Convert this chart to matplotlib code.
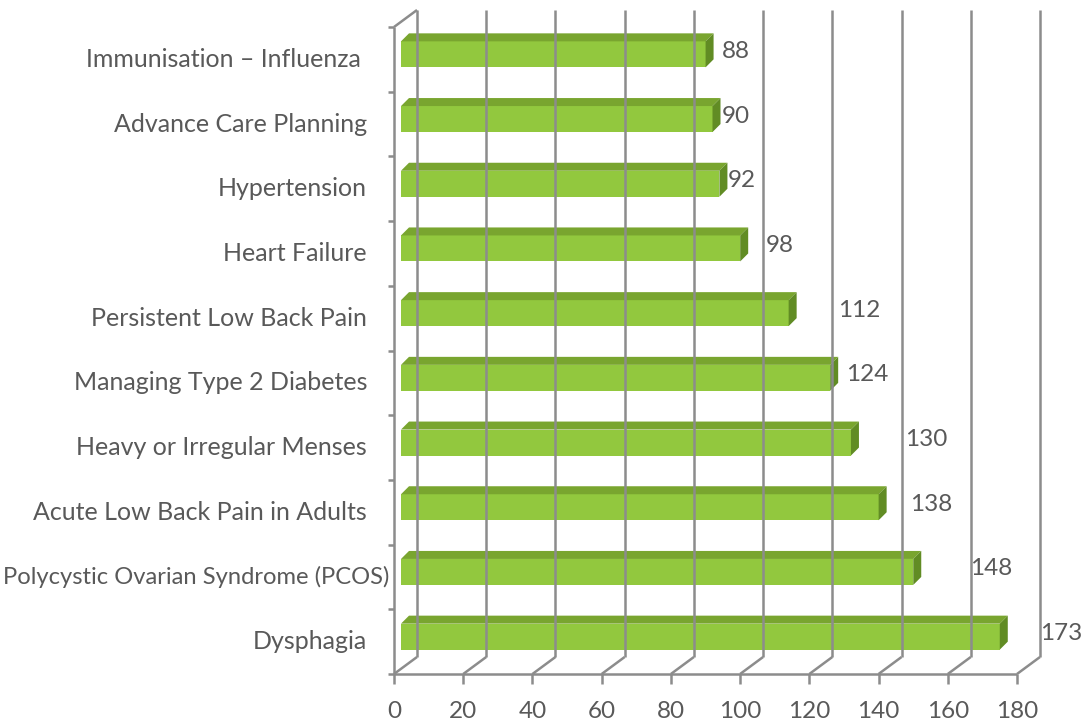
import matplotlib

matplotlib.use("Agg")
import matplotlib.pyplot as plt
from matplotlib.patches import Polygon

# data, top to bottom as shown in the chart
topics = [
    "Immunisation \u2013 Influenza ",
    "Advance Care Planning",
    "Hypertension",
    "Heart Failure",
    "Persistent Low Back Pain",
    "Managing Type 2 Diabetes",
    "Heavy or Irregular Menses",
    "Acute Low Back Pain in Adults",
    "Polycystic Ovarian Syndrome (PCOS)",
    "Dysphagia",
]
counts = [88, 90, 92, 98, 112, 124, 130, 138, 148, 173]
x_ticks = [0, 20, 40, 60, 80, 100, 120, 140, 160, 180]
# Excel pushes some value labels further out than others
label_gap = [4.8, 2.8, 2.5, 7.5, 14.3, 4.6, 15.7, 9.1, 16.5, 11.7]

FRONT = "#92C83E"
TOP = "#79A52F"
SIDE = "#618C24"
GRID = "#8C8C8C"
TEXT = "#595959"
FONT = "Lato"

W, H = 1086, 724
fig = plt.figure(figsize=(W / 100, H / 100), dpi=100)
left_px, right_px, top_px, bottom_px = 394, 1017, 27, 674
ax = fig.add_axes([left_px / W, 1 - bottom_px / H,
                   (right_px - left_px) / W, (bottom_px - top_px) / H])
xmax = x_ticks[-1]
n = len(topics)
ax.set_xlim(0, xmax)
ax.set_ylim(0, n)
ax.axis("off")

# pixel -> data conversions
sx = xmax / (right_px - left_px)
sy = n / (bottom_px - top_px)
wall_dx, wall_dy = 23 * sx, 17 * sy       # depth of the 3d box
bar_dx, bar_dy = 7 * sx, 5 * sy           # bar front sits a little inside
face_dx, face_dy = 8 * sx, 8 * sy         # bar depth
bar_h = 26 * sy

line_kw = dict(color=GRID, lw=1.8, clip_on=False, solid_capstyle="butt")

# back wall gridlines and floor diagonals
for t in x_ticks:
    ax.plot([t + wall_dx, t + wall_dx], [wall_dy, n + wall_dy], **line_kw)
    ax.plot([t, t + wall_dx], [0, wall_dy], **line_kw)
    ax.plot([t, t], [0, -10 * sy], **line_kw)
    ax.text(t, -37 * sy, str(t), ha="center", va="center", fontsize=17.5,
            color=TEXT, family=FONT)

# front floor edge, left wall
ax.plot([0, xmax], [0, 0], **line_kw)
ax.plot([0, 0], [0, n], **line_kw)
ax.plot([0, wall_dx], [n, n + wall_dy], **line_kw)
for k in range(n + 1):
    ax.plot([-6 * sx, 0], [k, k], **line_kw)

# bars
for i, (name, v) in enumerate(zip(topics, counts)):
    yc = n - i - 0.5
    y0 = yc + bar_dy - bar_h / 2
    y1 = y0 + bar_h
    x0 = bar_dx
    x1 = v + bar_dx
    ax.add_patch(Polygon([(x0, y0), (x1, y0), (x1, y1), (x0, y1)],
                         closed=True, fc=FRONT, ec="none", clip_on=False))
    ax.add_patch(Polygon([(x0, y1), (x1, y1), (x1 + face_dx, y1 + face_dy),
                          (x0 + face_dx, y1 + face_dy)],
                         closed=True, fc=TOP, ec="none", clip_on=False))
    ax.add_patch(Polygon([(x1, y0), (x1 + face_dx, y0 + face_dy),
                          (x1 + face_dx, y1 + face_dy), (x1, y1)],
                         closed=True, fc=SIDE, ec="none", clip_on=False))
    ax.text(v + bar_dx + label_gap[i], yc + bar_dy + 3 * sy, str(v),
            ha="left", va="center", fontsize=17.5, color=TEXT, family=FONT)

# category labels, right aligned; a label too long for the margin is
# shrunk and nudged so it fits between the figure edge and the wall
renderer = fig.canvas.get_renderer()
room = left_px - 6
for i, name in enumerate(topics):
    t = ax.text(-27 * sx, n - i - 0.5, name, ha="right", va="center",
                fontsize=18, color=TEXT, family=FONT)
    bb = t.get_window_extent(renderer)
    if bb.x0 < 3:
        t.set_fontsize(18 * (room - 3) / bb.width)
        t.set_ha("left")
        t.set_x(-(left_px - 3) * sx)

fig.savefig("out.png", dpi=100)
